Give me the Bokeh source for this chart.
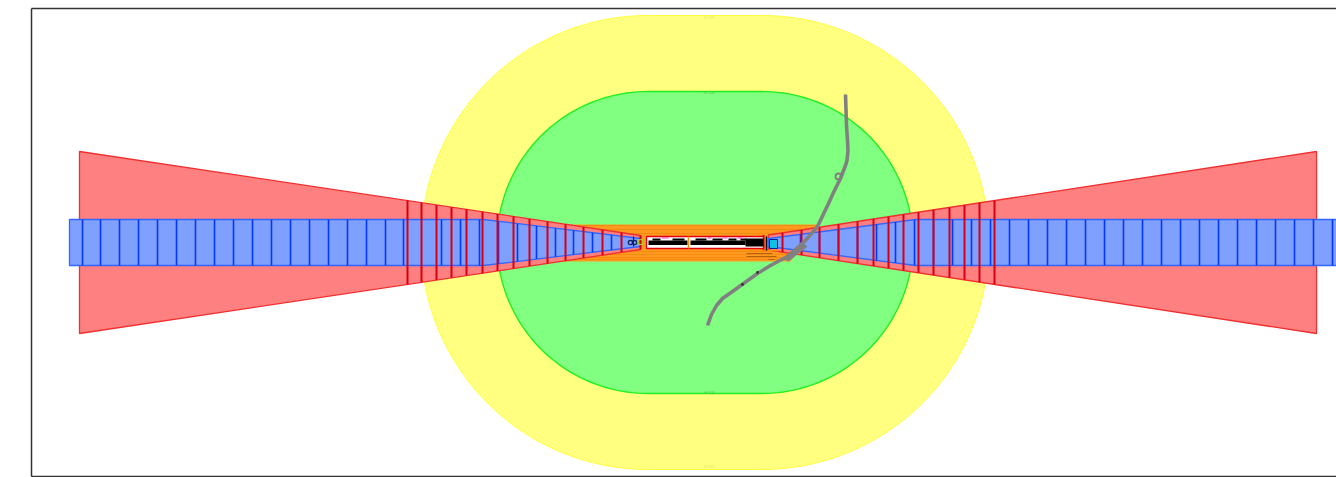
from bokeh.plotting import figure
from bokeh.embed import file_html
from bokeh.resources import INLINE
from bokeh.models import Range1d, LinearAxis, FixedTicker
from bokeh.core.properties import value
import numpy as np

# All positions in chart units along the map axes
CENTER_X, CENTER_Y = 704.5, 242.0
STRAIGHT_HALF = 57.0
YELLOW_RADIUS, GREEN_RADIUS = 227.0, 151.0

red_left_x = [79, 640]
red_left_half = [91, 7]
red_right_x = [768, 1316]
red_right_half = [7.5, 91]

blue_left_x = [69, 483, 640]
blue_left_half = [23, 23, 4]
blue_right_x = [768, 915, 1345]
blue_right_half = [4, 23, 23]

red_ticks_left = [407, 421, 436, 451, 466, 482, 497, 513, 529, 547, 565, 583, 602, 621, 640]
red_ticks_right = [763, 782, 801, 819, 838, 857, 873, 888, 903, 918, 933, 949, 964, 979, 994]
blue_ticks_left = [82, 100, 119, 138, 157, 176, 195, 214, 233, 252, 271, 290, 309, 328, 347, 366, 385,
                   403, 441, 460, 479, 498, 517, 536, 555, 573, 592, 611]
blue_ticks_right = [800, 819, 838, 857, 876, 895, 914, 933, 952, 971, 990, 1009, 1028, 1047, 1066, 1085,
                    1104, 1123, 1142, 1161, 1180, 1199, 1218, 1237, 1256, 1275, 1294, 1313, 1332]

road_x = [845, 846, 847, 847.5, 846.5, 845, 843, 840, 833, 828, 817, 805, 787, 783, 770, 757, 743, 732, 722, 716, 711, 707]
road_y = [94, 125, 140, 150, 160, 165, 170, 178, 192, 203, 226, 240, 256, 258, 265, 273, 283, 291, 298, 305, 314, 325]
road_dots_x = [757, 742]
road_dots_y = [272, 284]

stripe_y = [225, 229, 233, 251, 254, 257, 259]
stripe_x0 = [566, 566, 585, 580, 570, 566, 566]
stripe_x1 = [815, 812, 800, 796, 790, 786, 782]

label_x = [709, 709, 709, 709]
label_y = [17, 92, 392, 466]
label_text = ["H 295", "H 120", "H 120", "H 295"]
label_color = ["#e8e860", "#40d040", "#40d040", "#e8e860"]

def stadium(r):
    t = np.linspace(-np.pi / 2, np.pi / 2, 90)
    xs = np.r_[CENTER_X + STRAIGHT_HALF + r * np.cos(t), (CENTER_X - STRAIGHT_HALF - r * np.cos(t))[::-1]]
    ys = np.r_[CENTER_Y + r * np.sin(t), (CENTER_Y + r * np.sin(t))[::-1]]
    return xs, ys

def wedge(p, xs, half, fill, line, width=1):
    xs = list(xs)
    half = list(half)
    px = xs + xs[::-1]
    py = [CENTER_Y - h for h in half] + [CENTER_Y + h for h in half[::-1]]
    p.patch(px, py, fill_color=fill, line_color=line, line_width=width)

p = figure(width=1336, height=477, output_backend="svg", toolbar_location=None,
           x_range=Range1d(31, 1336), y_range=Range1d(476, 8),
           x_axis_type=None, y_axis_type=None,
           min_border_left=31, min_border_right=0, min_border_top=8, min_border_bottom=1)
p.grid.visible = False
p.outline_line_color = None
p.background_fill_color = "white"

for loc in ("left", "above", "below"):
    ax = LinearAxis(ticker=FixedTicker(ticks=[]), axis_line_color="#333333", axis_line_width=1.5,
                    major_tick_line_color=None, minor_tick_line_color=None)
    p.add_layout(ax, loc)

xs, ys = stadium(YELLOW_RADIUS)
p.patch(xs, ys, fill_color="#FFFF80", line_color="#FFFF40", line_width=1)
xs, ys = stadium(GREEN_RADIUS)
p.patch(xs, ys, fill_color="#80FF80", line_color="#20F020", line_width=1.4)

# orange surface block
p.patch([563, 818, 790, 563], [224, 224, 261, 261], fill_color="#FF9A20", line_color=None)
p.segment(stripe_x0, stripe_y, stripe_x1, stripe_y, line_color="#F58A10", line_width=1)

wedge(p, red_left_x, red_left_half, "#FF8080", "#EE3030", 1.3)
wedge(p, red_right_x, red_right_half, "#FF8080", "#EE3030", 1.3)
wedge(p, blue_left_x, blue_left_half, "#80A0FF", "#3366FF", 1.3)
wedge(p, blue_right_x, blue_right_half, "#80A0FF", "#3366FF", 1.3)

# blue cross lines
bl = np.array(blue_ticks_left, float)
bh = np.interp(bl, blue_left_x, blue_left_half)
p.segment(bl, CENTER_Y - bh, bl, CENTER_Y + bh, line_color="#0038FF", line_width=1.6)
br = np.array(blue_ticks_right, float)
bh = np.interp(br, blue_right_x, blue_right_half)
p.segment(br, CENTER_Y - bh, br, CENTER_Y + bh, line_color="#0038FF", line_width=1.6)

# red cross lines
rl = np.array(red_ticks_left, float)
rh = np.interp(rl, red_left_x, red_left_half)
p.segment(rl, CENTER_Y - rh, rl, CENTER_Y + rh, line_color="#D80010", line_width=2)
rr = np.array(red_ticks_right, float)
rh = np.interp(rr, red_right_x, red_right_half)
p.segment(rr, CENTER_Y - rh, rr, CENTER_Y + rh, line_color="#D80010", line_width=2)

# runway block
p.quad(left=[646], right=[763], top=[236], bottom=[248], fill_color="white", line_color="#E00010", line_width=1.3)
p.quad(left=[648, 690, 745], right=[687, 745, 763], top=[240, 240, 238], bottom=[244.5, 244.5, 246],
       fill_color="black", line_color=None)
p.quad(left=[652, 672, 695, 712, 728, 740], right=[660, 684, 706, 722, 736, 746],
       top=[238, 238, 238, 238, 238, 238], bottom=[240, 240, 240, 240, 240, 240],
       fill_color="black", line_color=None)
p.segment([661, 707, 737, 722], [237.5, 237.5, 237.5, 237.5], [668, 711, 742, 727], [237.5, 237.5, 237.5, 237.5],
          line_color="#FF30D0", line_width=1)
p.segment([688, 748], [236, 250], [688, 778], [248, 250], line_color="#FF8A10", line_width=1.5)

# threshold detail left / right
p.circle([630, 634], [242, 242], radius=2.2, fill_color=None, line_color="#102060", line_width=1.2)
p.circle([640], [241.5], radius=2.5, fill_color=None, line_color="#A0D020", line_width=1.2)
p.segment([633], [236], [633], [246], line_color="#102060", line_width=1.2)
p.quad(left=[769], right=[777], top=[239], bottom=[248], fill_color="#10C0E0", line_color="#0020A0", line_width=1)
p.segment([766], [236], [766], [250], line_color="black", line_width=1.5)
# small brown annotation marks below the threshold
p.segment([746, 746, 768], [253, 256, 259], [772, 776, 774], [253, 256, 259], line_color="#B06010", line_width=1)

# road
p.line(road_x, road_y, line_color="#808080", line_width=3.6, line_join="round")
p.patch([782, 802, 807, 788], [258, 242, 246, 261], fill_color="#808080", line_color=None)
p.circle([838], [176], radius=3, fill_color=None, line_color="#808080", line_width=1.8)
p.circle(road_dots_x, road_dots_y, radius=1.4, fill_color="#303030", line_color=None)

p.text(label_x, label_y, text=label_text, text_color=label_color, text_font=value("Liberation Sans"),
       text_font_size="4px", text_align="center", text_baseline="middle")

open("out.html", "w").write(file_html(p, INLINE))
